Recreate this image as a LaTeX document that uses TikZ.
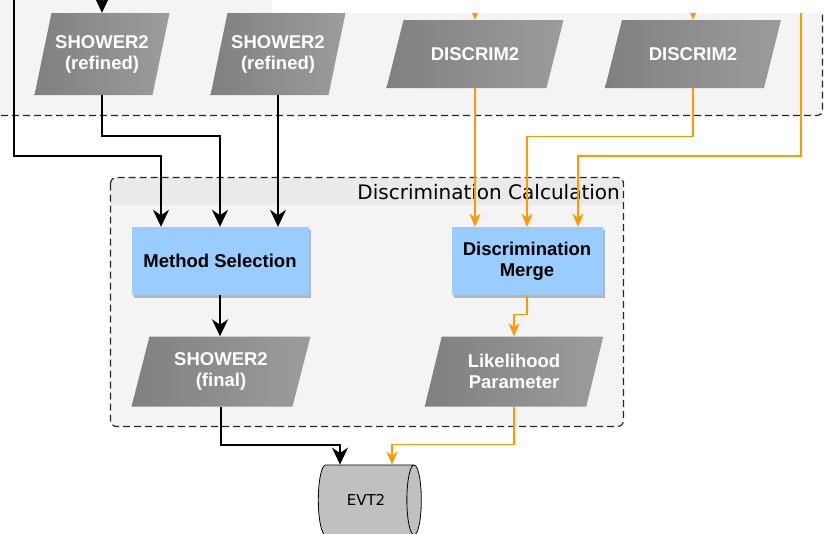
\documentclass[tikz,border=0pt]{standalone}
\usepackage{fontspec}
\setmainfont{Liberation Sans}
\newfontfamily\dejavu{DejaVu Sans}
\usetikzlibrary{arrows.meta,shapes.geometric,shadows}

\definecolor{panelgray}{HTML}{F4F4F4}
\definecolor{headgray}{HTML}{EAEAEA}
\definecolor{paradark}{HTML}{808080}
\definecolor{paralight}{HTML}{9C9C9C}
\definecolor{procblue}{HTML}{99CCFF}
\definecolor{flowor}{HTML}{FF9900}
\definecolor{evtgray}{HTML}{C0C0C0}
\definecolor{borderdk}{HTML}{262626}

% data block: name, centre x, centre y, side length, height, slant offset, label
\newcommand\iodata[7]{%
  \shade[iofill] ({#2-#4/2-#6/2},{#3+#5/2}) -- ({#2+#4/2-#6/2},{#3+#5/2})
    -- ({#2+#4/2+#6/2},{#3-#5/2}) -- ({#2-#4/2+#6/2},{#3-#5/2}) -- cycle;
  \node[iotext, minimum width=#4pt, minimum height=#5pt] (#1) at (#2,#3) {#7};}

\begin{document}
\begin{tikzpicture}[x=1pt, y=-1pt,
  iofill/.style={left color=paradark, right color=paralight},
  iotext/.style={rectangle, inner sep=0pt, align=center, text=white,
    font=\bfseries\fontsize{18.5}{21}\selectfont},
  procbox/.style={rectangle, fill=procblue, inner sep=0pt, align=center,
    font=\bfseries\fontsize{18.5}{21}\selectfont,
    drop shadow={shadow xshift=2.5pt, shadow yshift=-2.5pt, opacity=0.25, fill=black}},
  dashframe/.style={draw=borderdk, line width=1.2pt, dash pattern=on 7pt off 4pt},
  blk/.style={draw=black, line width=2pt, -{Stealth[length=17pt,width=16pt,inset=5.5pt]}},
  org/.style={draw=flowor, line width=1.2pt, -{Stealth[length=13pt,width=11pt,inset=4pt]}},
  evtstore/.style={cylinder, draw=black, line width=0.8pt, fill=evtgray,
    shape aspect=1.3, minimum width=70pt, minimum height=103pt, inner sep=0pt,
    font=\dejavu\fontsize{15}{18}\selectfont}
]
\useasboundingbox (0,0) rectangle (827,533);
\clip (0,0) rectangle (827,533);

% upper panel
\fill[panelgray, rounded corners=5pt] (-10,-10) -- (-10,115.5) -- (822.5,115.5) -- (822.5,-10) -- cycle;
\draw[dashframe, rounded corners=5pt] (-10,115.5) -- (822.5,115.5) -- (822.5,-10);

% Discrimination Calculation container
\fill[panelgray, rounded corners=6pt] (110.5,177.5) rectangle (623.5,426.5);
\begin{scope}
  \clip[rounded corners=6pt] (110.5,177.5) rectangle (623.5,426.5);
  \fill[headgray] (110.5,177.5) rectangle (623.5,205);
\end{scope}
\draw[dashframe, rounded corners=6pt] (110.5,177.5) rectangle (623.5,426.5);
\node[anchor=base east, inner sep=0pt, font=\dejavu\fontsize{20}{24}\selectfont]
  (dctitle) at (620,199) {Discrimination Calculation};

% data blocks
\iodata{sh1}{102}{54}{118}{82}{17}{SHOWER2\\(refined)}
\iodata{sh2}{278}{54}{118}{82}{17}{SHOWER2\\(refined)}
\iodata{dc1}{475}{54}{160}{68}{17}{DISCRIM2}
\iodata{dc2}{693}{54}{159}{68}{17}{DISCRIM2}
\iodata{shf}{221}{371.5}{161}{70}{18}{SHOWER2\\(final)}
\iodata{lp}{514}{371.5}{161.5}{70}{17}{Likelihood\\Parameter}

% processes
\node[procbox, minimum width=177pt, minimum height=68pt] (ms) at (220,261) {Method Selection};
\node[procbox, minimum width=151pt, minimum height=68pt] (dm) at (527,261) {Discrimination\\Merge};

% event store
\node[evtstore] (evt) at (366,500) {EVT2};

% incoming flows
\coordinate (inA) at ([yshift=25pt]sh1.north);
\coordinate (inB) at ([yshift=30pt]dc1.north);
\coordinate (inC) at ([yshift=30pt]dc2.north);
\coordinate (inL) at (14,-10);
\coordinate (inR) at (801,-10);

% black flows
\draw[blk] (inA) -- (sh1.north);
\draw[blk] (inL) -- (inL |- 0,156) -| ([xshift=-59pt]ms.north);
\draw[blk] (sh1.south) -- ++(0,41) -| (ms.north);
\draw[blk] (sh2.south) -- (sh2.south |- ms.north);
\draw[blk] (ms.south) -- (ms.south |- shf.north);
\draw[blk] (shf.south) -- ++(0,38.5) -| ([xshift=-26pt]evt.north);

% orange flows
\draw[org] (inB) -- (dc1.north);
\draw[org] (inC) -- (dc2.north);
\draw[org] (dc1.south) -- (dc1.south |- dm.north);
\draw[org] (dc2.south) -- ++(0,48) -| (dm.north);
\draw[org] (inR) -- (inR |- 0,156) -| ([xshift=51pt]dm.north);
\draw[org] (dm.south) -- ++(0,19.5) -| (lp.north);
\draw[org] (lp.south) -- ++(0,38) -| ([xshift=26pt]evt.north);

% white strip along the top edge
\fill[white] (272,-10) rectangle (840,13);
\end{tikzpicture}
\end{document}
